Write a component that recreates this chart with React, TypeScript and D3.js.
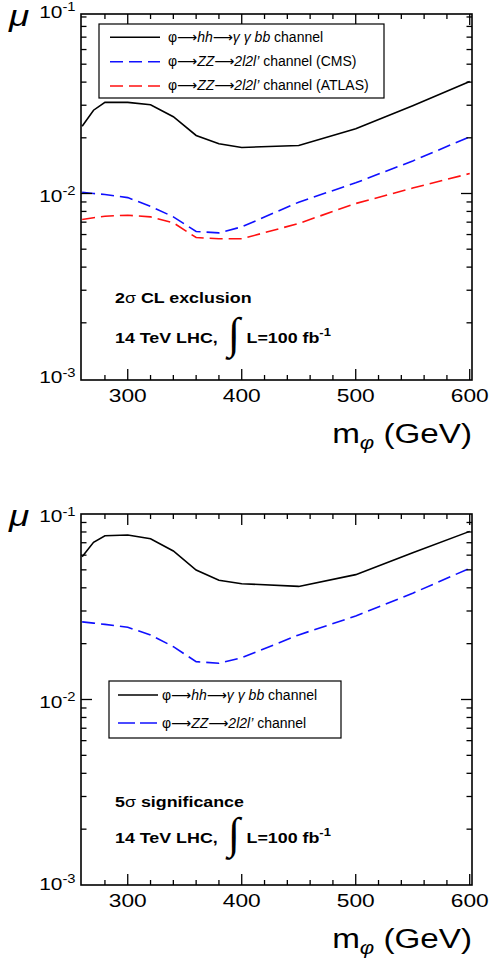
import React from "react";
import * as d3 from "d3";

const W = 492;
const H = 964;
const SX = 1.23;
const FONT = "'Liberation Sans', Arial, Helvetica, sans-serif";

// Data
const mass = [260, 270, 280, 300, 320, 340, 360, 380, 400, 450, 500, 550, 600];
const hhExcl = [0.0231, 0.0282, 0.0311, 0.0311, 0.0302, 0.026, 0.0206, 0.01856, 0.01773, 0.01818, 0.02237, 0.0298, 0.0403];
const zzCmsExcl = [0.01016, 0.01, 0.00988, 0.0095, 0.00853, 0.00748, 0.00623, 0.00613, 0.0066, 0.00898, 0.01142, 0.015, 0.02025];
const zzAtlasExcl = [0.00724, 0.0074, 0.00754, 0.00763, 0.00748, 0.00695, 0.00578, 0.00569, 0.00569, 0.00689, 0.00883, 0.0107, 0.01282];
const hhSig = [0.0589, 0.0704, 0.0764, 0.077, 0.0736, 0.0632, 0.0499, 0.0439, 0.0421, 0.0407, 0.0471, 0.0619, 0.0806];
const zzSig = [0.0262, 0.0258, 0.0254, 0.0245, 0.0223, 0.01926, 0.016, 0.01567, 0.0168, 0.0223, 0.0282, 0.0374, 0.051];

const xTickLabels = [300, 400, 500, 600];
const yTickExps = [-1, -2, -3];

const BLACK = "#000000";
const BLUE = "#1010ff";
const RED = "#ff1010";

type Series = { values: number[]; color: string; dash?: string };

function ST({ x, y, children, anchor = "start", size = 14, weight = "normal", style = "normal", sx = SX, family = FONT }: any) {
  return (
    <g transform={`translate(${x},${y}) scale(${sx},1)`}>
      <text x={0} y={0} textAnchor={anchor} fontSize={size} fontWeight={weight} fontStyle={style} fontFamily={family} fill="#000">
        {children}
      </text>
    </g>
  );
}

function Panel({ top, bottom, yRange, series, id }: { top: number; bottom: number; yRange: [number, number]; series: Series[]; id: string }) {
  const left = 81;
  const right = 472;
  const x = d3.scaleLinear().domain([259, 602]).range([left, right]);
  const y = d3.scaleLog().domain([1e-3, 1e-1]).range(yRange);
  const line = d3
    .line<[number, number]>()
    .x((d) => x(d[0]))
    .y((d) => y(d[1]));

  const xTicks = d3.range(280, 601, 20);
  const yMinor: number[] = [];
  [-3, -2].forEach((e) => {
    for (let k = 2; k <= 9; k++) yMinor.push(k * Math.pow(10, e));
  });
  const yMajor = [1e-2];

  const els: any[] = [];
  xTicks.forEach((t) => {
    const major = t % 100 === 0;
    const L = major ? 11 : 5;
    const px = x(t);
    els.push(<line key={"xb" + t} x1={px} x2={px} y1={bottom} y2={bottom - L} stroke="#000" strokeWidth={1.3} />);
    els.push(<line key={"xt" + t} x1={px} x2={px} y1={top} y2={top + L} stroke="#000" strokeWidth={1.3} />);
  });
  [...yMinor.map((v) => [v, 5.5]), ...yMajor.map((v) => [v, 11])].forEach(([v, L]) => {
    const py = y(v);
    if (py < top + 1 || py > bottom - 1) return;
    els.push(<line key={"yl" + v} x1={left} x2={left + L} y1={py} y2={py} stroke="#000" strokeWidth={1.3} />);
    els.push(<line key={"yr" + v} x1={right} x2={right - L} y1={py} y2={py} stroke="#000" strokeWidth={1.3} />);
  });

  return (
    <g>
      <defs>
        <clipPath id={id}>
          <rect x={left} y={top} width={right - left} height={bottom - top} />
        </clipPath>
      </defs>
      <g clipPath={`url(#${id})`}>
        {series.map((s, i) => (
          <path
            key={i}
            d={line(mass.map((m, j) => [m, s.values[j]] as [number, number])) || ""}
            fill="none"
            stroke={s.color}
            strokeWidth={1.6}
            strokeDasharray={s.dash}
          />
        ))}
      </g>
      {els}
      <rect x={left} y={top} width={right - left} height={bottom - top} fill="none" stroke="#000" strokeWidth={1.6} />
      {xTickLabels.map((t) => (
        <ST key={"xl" + t} x={x(t)} y={bottom + 21.7} anchor="middle" size={18.5}>
          {t}
        </ST>
      ))}
      {yTickExps.map((e) => {
        const py = y(Math.pow(10, e));
        const by = e === -3 ? py + 4.5 : Math.max(py + 8, top + 3.5);
        return (
          <ST key={"yl" + e} x={75.5} y={by} anchor="end" size={17}>
            10
            <tspan dy={-6.5} fontSize={12}>
              {String(e)}
            </tspan>
          </ST>
        );
      })}
      <ST x={9} y={top + 12} size={30} style="italic">
        μ
      </ST>
      <ST x={472} y={bottom + 63} anchor="end" size={27}>
        m
        <tspan fontStyle="italic" fontSize={18} dy={6}>
          φ
        </tspan>
        <tspan dy={-6}> (GeV)</tspan>
      </ST>
    </g>
  );
}

const ARROW_FONT = "'DejaVu Sans', sans-serif";

function LegendLabel({ x, y, kind, suffix }: { x: number; y: number; kind: "hh" | "zz"; suffix: string }) {
  const arrow = (
    <tspan fontFamily={ARROW_FONT} fontSize={14}>
      ⟶
    </tspan>
  );
  return (
    <ST x={x} y={y} size={14} sx={1}>
      φ{arrow}
      {kind === "hh" ? (
        <>
          <tspan fontStyle="italic">hh</tspan>
          {arrow}
          <tspan fontStyle="italic">γ γ bb</tspan>
        </>
      ) : (
        <>
          <tspan fontStyle="italic">ZZ</tspan>
          {arrow}
          <tspan fontStyle="italic">2l2l’</tspan>
        </>
      )}
      {suffix}
    </ST>
  );
}

function Annotation({ x, y1, y2, first }: { x: number; y1: number; y2: number; first: React.ReactNode }) {
  return (
    <g>
      <ST x={x} y={y1} size={14.5} weight="bold">
        {first}
      </ST>
      <ST x={x} y={y2} size={14.5} weight="bold">
        14 TeV LHC,
      </ST>
      <ST x={228} y={y2 + 5} size={44} sx={1} family="'Liberation Serif', 'Times New Roman', serif">
        ∫
      </ST>
      <ST x={246.5} y={y2} size={14.5} weight="bold">
        L=100 fb
        <tspan dy={-7} fontSize={10.5}>
          -1
        </tspan>
      </ST>
    </g>
  );
}

export default function App() {
  const dash = "13,6";
  return (
    <svg width={W} height={H} style={{ position: "absolute", left: 0, top: 0, background: "#fff" }}>
      <rect x={0} y={0} width={W} height={H} fill="#fff" />
      <Panel
        id="clipTop"
        top={14}
        bottom={380}
        yRange={[378.5, 8.5]}
        series={[
          { values: hhExcl, color: BLACK },
          { values: zzCmsExcl, color: BLUE, dash },
          { values: zzAtlasExcl, color: RED, dash },
        ]}
      />
      <Panel
        id="clipBot"
        top={514}
        bottom={885}
        yRange={[885, 514]}
        series={[
          { values: hhSig, color: BLACK },
          { values: zzSig, color: BLUE, dash },
        ]}
      />

      {/* Top legend */}
      <rect x={99} y={24} width={285} height={74} fill="#fff" stroke="#000" strokeWidth={1.2} />
      <line x1={110} x2={160} y1={37.3} y2={37.3} stroke={BLACK} strokeWidth={1.6} />
      <line x1={110} x2={160} y1={61.7} y2={61.7} stroke={BLUE} strokeWidth={1.6} strokeDasharray={dash} />
      <line x1={110} x2={160} y1={86} y2={86} stroke={RED} strokeWidth={1.6} strokeDasharray={dash} />
      <LegendLabel x={168} y={41.7} kind="hh" suffix=" channel" />
      <LegendLabel x={168} y={65.5} kind="zz" suffix=" channel (CMS)" />
      <LegendLabel x={168} y={89.5} kind="zz" suffix=" channel (ATLAS)" />

      {/* Bottom legend */}
      <rect x={109} y={681} width={232} height={57} fill="#fff" stroke="#000" strokeWidth={1.2} />
      <line x1={118} x2={158} y1={695} y2={695} stroke={BLACK} strokeWidth={1.6} />
      <line x1={118} x2={158} y1={723} y2={723} stroke={BLUE} strokeWidth={1.6} strokeDasharray="17,5" />
      <LegendLabel x={162} y={699.5} kind="hh" suffix=" channel" />
      <LegendLabel x={162} y={727.8} kind="zz" suffix=" channel" />

      <Annotation
        x={115}
        y1={303.3}
        y2={343.3}
        first={
          <>
            2<tspan fontWeight="normal">σ</tspan> CL exclusion
          </>
        }
      />
      <Annotation
        x={115}
        y1={806.7}
        y2={843.3}
        first={
          <>
            5<tspan fontWeight="normal">σ</tspan> significance
          </>
        }
      />
    </svg>
  );
}
